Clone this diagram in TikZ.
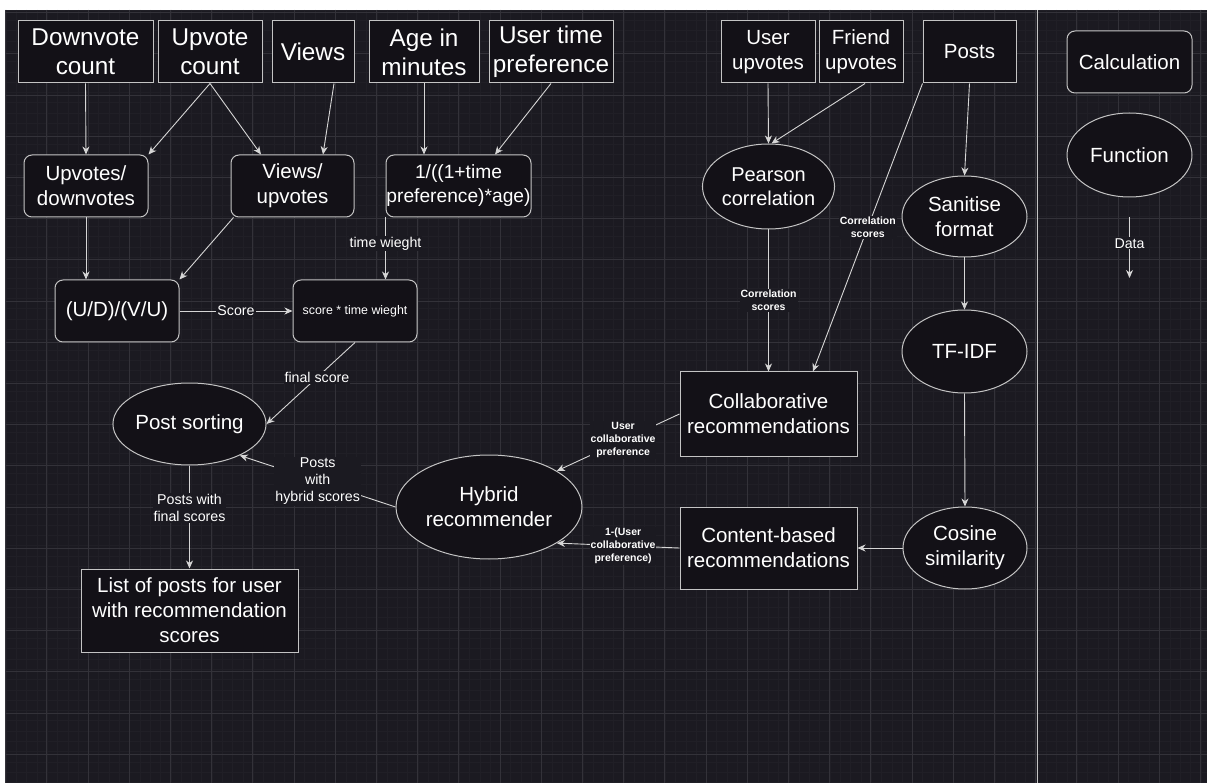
\documentclass[tikz,border=0pt]{standalone}
\usepackage{fontspec}
\setmainfont{Liberation Sans}
\usetikzlibrary{shapes.geometric,arrows.meta}

\definecolor{canvas}{HTML}{1B1A21}
\definecolor{cellfill}{HTML}{131117}
\definecolor{gridminor}{HTML}{201F26}
\definecolor{gridmajor}{HTML}{333239}
\definecolor{edgecol}{HTML}{C4C4C4}
\definecolor{linecol}{HTML}{D6D6D6}

\begin{document}
\begin{tikzpicture}[x=1pt, y=-1pt]
    \tikzset{
      inbox/.style={draw=edgecol, line width=1pt, fill=cellfill, text=white, align=center, inner sep=0pt},
      calcbox/.style={inbox, rounded corners=8pt},
      func/.style={inbox, ellipse},
      big/.style={font=\fontsize{24.3}{29}\selectfont},
      mid/.style={font=\fontsize{20.5}{25}\selectfont},
      flow/.style={draw=linecol, line width=0.9pt, -{Stealth[length=8pt,width=7pt,inset=2.5pt]}},
      lbl/.style={fill=canvas, text=white, align=center, inner sep=1pt, font=\fontsize{14.2}{17.5}\selectfont},
      sml/.style={fill=canvas, text=white, align=center, inner sep=1pt, font=\bfseries\fontsize{10.5}{13.3}\selectfont}
    }
    \useasboundingbox (0,0) rectangle (1207,783);
    % canvas and grid
    \fill[white] (0,0) rectangle (1207,783);
    \fill[canvas] (6,10) rectangle (1207,783);
    \foreach \i in {0,...,116} \draw[gridminor, line width=0.5pt] ({6+\i*10.3},10) -- ({6+\i*10.3},783);
    \foreach \i in {0,...,75} \draw[gridminor, line width=0.5pt] (6,{10+\i*10.3}) -- (1207,{10+\i*10.3});
    \foreach \i in {0,...,29} \draw[gridmajor, line width=0.6pt] ({5.5+\i*41.2},10) -- ({5.5+\i*41.2},783);
    \foreach \i in {0,...,18} \draw[gridmajor, line width=0.6pt] (6,{12.5+\i*41.2}) -- (1207,{12.5+\i*41.2});
    % legend divider
    \draw[edgecol, line width=1pt] (1037,10) -- (1037,783);

    % inputs
    \node[inbox, big, minimum width=135pt, minimum height=62pt] (down) at (85.5,52) {Downvote\\count};
    \node[inbox, big, minimum width=104pt, minimum height=62pt] (upv) at (210,52) {Upvote\\count};
    \node[inbox, big, minimum width=82pt, minimum height=62pt] (views) at (313,52) {Views};
    \node[inbox, big, minimum width=110pt, minimum height=62pt] (age) at (424,52) {Age in\\minutes};
    \node[inbox, big, minimum width=124pt, minimum height=62pt] (utp) at (551,52) {User time\\preference};
    \node[inbox, mid, minimum width=94pt, minimum height=62pt] (uupv) at (768,52) {User\\upvotes};
    \node[inbox, mid, minimum width=84pt, minimum height=62pt] (fupv) at (861,52) {Friend\\upvotes};
    \node[inbox, mid, minimum width=93pt, minimum height=62pt] (posts) at (969.5,52) {Posts};

    % calculations
    \node[calcbox, mid, minimum width=124pt, minimum height=62pt] (updown) at (86,186) {Upvotes/\\downvotes};
    \node[calcbox, mid, minimum width=123pt, minimum height=62pt] (viewsup) at (292.5,186) {Views/\\upvotes};
    \node[calcbox, font=\fontsize{19.2}{24}\selectfont, minimum width=145pt, minimum height=62pt] (tcalc) at (458.5,186) {1/((1+time\\preference)*age)};
    \node[calcbox, mid, minimum width=124pt, minimum height=62pt] (udvu) at (117,311) {(U/D)/(V/U)};
    \node[calcbox, font=\fontsize{12.4}{15}\selectfont, minimum width=124pt, minimum height=62pt] (final) at (355,311) {score * time wieght};

    % functions
    \node[func, mid, minimum width=125pt, minimum height=82pt] (sorting) at (189.5,424) {Post sorting};
    \node[func, mid, minimum width=186pt, minimum height=104pt] (hybrid) at (489,507) {Hybrid\\recommender};
    \node[func, font=\fontsize{20}{24}\selectfont, minimum width=125pt, minimum height=85pt] (pearson) at (768.5,186.5) {Pearson\\correlation};
    \node[func, mid, minimum width=125pt, minimum height=81pt] (sanitise) at (964.5,216.5) {Sanitise\\format};
    \node[func, mid, minimum width=125pt, minimum height=83pt] (tfidf) at (964.5,351.5) {TF-IDF};
    \node[func, mid, minimum width=124pt, minimum height=82pt] (cosine) at (965,548) {Cosine\\similarity};

    % outputs
    \node[inbox, mid, minimum width=177pt, minimum height=84pt] (collab) at (768.5,414) {Collaborative\\recommendations};
    \node[inbox, mid, minimum width=177pt, minimum height=82pt] (content) at (768.5,548) {Content-based\\recommendations};
    \node[inbox, mid, minimum width=217pt, minimum height=83pt] (list) at (189.5,610.5) {List of posts for user\\with recommendation\\scores};

    % legend
    \node[calcbox, mid, minimum width=125pt, minimum height=62pt] (legcalc) at (1129.5,62) {Calculation};
    \node[func, mid, minimum width=125pt, minimum height=84pt] (legfunc) at (1129.5,155) {Function};
    \coordinate (dataA) at (1129.5,217);
    \coordinate (dataB) at (1129.5,278);

    % score branch
    \draw[flow] (down.south) -- (updown.north);
    \draw[flow] (upv.south) -- (updown.north east);
    \draw[flow] (upv.south) -- ([xshift=-31.5pt]viewsup.north);
    \draw[flow] ([xshift=21pt]views.south) -- ([xshift=30.5pt]viewsup.north);
    \draw[flow] (age.south) -- ([xshift=-34.5pt]tcalc.north);
    \draw[flow] (utp.south) -- ([xshift=36.5pt]tcalc.north);
    \draw[flow] (updown.south) -- (updown.south |- udvu.north);
    \draw[flow] ([xshift=3pt]viewsup.south west) -- (udvu.north east);
    \draw[flow] (udvu.east) -- node[lbl] {Score} (final.west);
    \draw[flow] (tcalc.south west) -- node[lbl, pos=0.42] {time wieght} (tcalc.south west |- final.north);
    \draw[flow] (final.south) -- node[lbl, pos=0.43] {final score} (sorting.east);
    \draw[flow] (sorting.south) -- node[lbl, pos=0.41] {Posts with\\final scores} (list.north);

    % recommender branch
    \draw[flow] (uupv.south) -- (pearson.north);
    \draw[flow] ([xshift=4pt]fupv.south) -- ([xshift=3pt]pearson.north);
    \draw[flow] (pearson.south) -- node[sml] {Correlation\\scores} (collab.north);
    \draw[flow] (posts.south west) -- node[sml] {Correlation\\scores} ([xshift=44.5pt]collab.north);
    \draw[flow] (posts.south) -- (sanitise.north);
    \draw[flow] (sanitise.south) -- (tfidf.north);
    \draw[flow] (tfidf.south) -- (cosine.north);
    \draw[flow] (cosine.west) -- (content.east);
    \draw[flow] (collab.west) -- node[sml, pos=0.46] {User\\collaborative\\preference} (hybrid.28);
    \draw[flow] (content.west) -- node[sml, pos=0.46] {1-(User\\collaborative\\preference)} (hybrid.-28);
    \draw[flow] (hybrid.west) -- node[lbl, font=\fontsize{14.2}{17}\selectfont] {Posts\\with\\hybrid scores} (sorting.-32);

    % legend arrow
    \draw[flow] (dataA) -- node[lbl, pos=0.43] {Data} (dataB);
  \end{tikzpicture}
\end{document}
